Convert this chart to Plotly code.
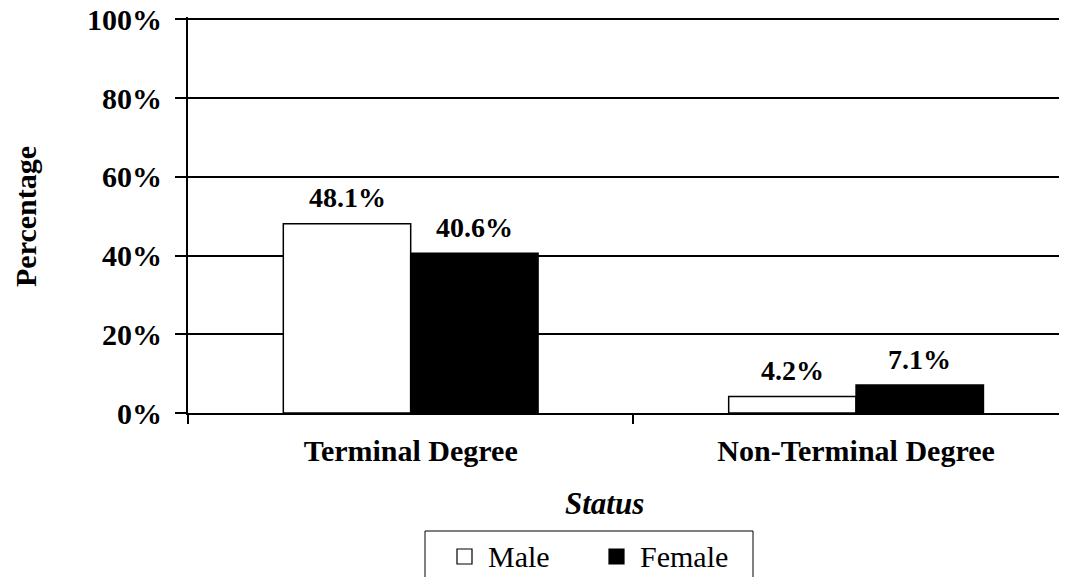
import plotly.graph_objects as go

categories = ["Terminal Degree", "Non-Terminal Degree"]
series_names = ["Male", "Female"]
male_values = [0.481, 0.042]
female_values = [0.406, 0.071]
male_labels = ["48.1%", "4.2%"]
female_labels = ["40.6%", "7.1%"]
y_ticks = [0, 0.2, 0.4, 0.6, 0.8, 1.0]
y_tick_labels = ["0%", "20%", "40%", "60%", "80%", "100%"]

FONT = "Liberation Serif"
W, H = 1067, 577
OFF = 8  # page body margin
YMAX = 1.006
# target plot area in window pixels
PL, PT, PB = 188, 17, 413
PR = W + OFF  # plot right edge (window coords), beyond visible edge
CAT_W = 445.5
CAT0 = 410.5


def px(xp):
    return (xp - PL) / (PR - PL)


def py(yp):
    return (PB - yp) / (PB - PT)


fig = go.Figure()
fig.add_trace(go.Bar(x=categories, y=male_values, name=series_names[0],
                     marker=dict(color="white", line=dict(color="black", width=1.5)),
                     showlegend=False))
fig.add_trace(go.Bar(x=categories, y=female_values, name=series_names[1],
                     marker=dict(color="black", line=dict(color="black", width=1.5)),
                     showlegend=False))

bar_half = 0.572 / 4  # in category units
for i, cat in enumerate(categories):
    for vals, labs, sgn in ((male_values, male_labels, -1), (female_values, female_labels, 1)):
        fig.add_annotation(x=i + sgn * bar_half, y=vals[i], text=labs[i],
                           xref="x", yref="y", showarrow=False,
                           yanchor="middle", yshift=26,
                           font=dict(family=FONT, size=28, color="black", weight="bold"))

# axis titles
fig.add_annotation(x=px(26), y=py(217), xref="paper", yref="paper", text="Percentage",
                   textangle=-90, showarrow=False, xanchor="center", yanchor="middle",
                   font=dict(family=FONT, size=30, color="black", weight="bold"))
fig.add_annotation(x=px(604), y=py(503), xref="paper", yref="paper", text="Status",
                   showarrow=False, xanchor="center", yanchor="middle",
                   font=dict(family=FONT, size=31, color="black", weight="bold", style="italic"))

# legend (manual, box extends below the image)
fig.add_shape(type="rect", xref="paper", yref="paper", x0=px(425), x1=px(753),
              y0=py(531), y1=py(620), line=dict(color="black", width=1), fillcolor="rgba(0,0,0,0)")
legend_items = [(series_names[0], "white", 457, 486), (series_names[1], "black", 609, 638)]
for name, col, sx, tx in legend_items:
    fig.add_shape(type="rect", xref="paper", yref="paper", x0=px(sx), x1=px(sx + 15),
                  y0=py(549), y1=py(564), line=dict(color="black", width=1.2), fillcolor=col)
    fig.add_annotation(x=px(tx), y=py(556), xref="paper", yref="paper", text=name,
                       showarrow=False, xanchor="left", yanchor="middle",
                       font=dict(family=FONT, size=30, color="black"))

fig.update_layout(
    width=W, height=H,
    margin=dict(l=PL - OFF, r=W - (PR - OFF), t=PT - OFF, b=H - (PB - OFF), pad=0,
                autoexpand=False),
    paper_bgcolor="white", plot_bgcolor="white",
    barmode="group", bargap=0.428, bargroupgap=0,
    showlegend=False,
    xaxis=dict(type="category", range=[-0.5, (PR - CAT0) / CAT_W], showline=True,
               linecolor="black", linewidth=2, ticks="outside", tickson="boundaries",
               ticklen=9, tickwidth=2, tickcolor="black", showgrid=False,
               ticklabelstandoff=10, automargin=False,
               tickfont=dict(family=FONT, size=30, color="black", weight="bold")),
    yaxis=dict(range=[0, YMAX], tickvals=y_ticks, ticktext=y_tick_labels, showline=True,
               linecolor="black", linewidth=2, ticks="outside", ticklen=11, tickwidth=2,
               tickcolor="black", showgrid=True, gridcolor="black", gridwidth=1.5,
               zeroline=False, ticklabelstandoff=7, ticklabeloverflow="allow",
               automargin=False,
               tickfont=dict(family=FONT, size=30, color="black", weight="bold")),
)

fig.write_html("out.html")
